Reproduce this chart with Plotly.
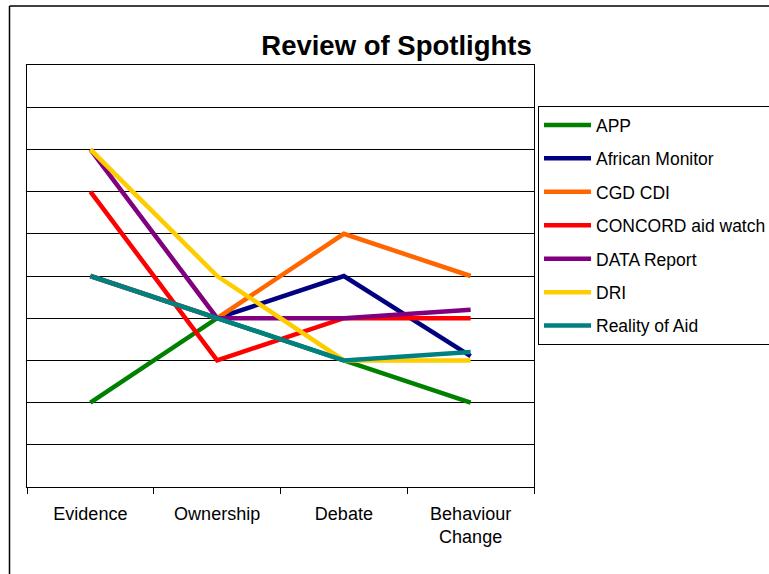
import plotly.graph_objects as go

categories = ["Evidence", "Ownership", "Debate", "Behaviour<br>Change"]

series_names = ["APP", "African Monitor", "CGD CDI", "CONCORD aid watch",
                "DATA Report", "DRI", "Reality of Aid"]
app = [2, 4, 3, 2]
african_monitor = [5, 4, 5, 3.1]
cgd_cdi = [5, 4, 6, 5]
concord = [7, 3, 4, 4]
data_report = [8, 4, 4, 4.2]
dri = [8, 5, 3, 3]
reality_of_aid = [5, 4, 3, 3.2]
series_values = [app, african_monitor, cgd_cdi, concord, data_report, dri, reality_of_aid]
colors = ["#008000", "#000080", "#FF6600", "#FF0000", "#800080", "#FFCC00", "#008080"]

W, H = 769, 574
L, R, T, B = 27, 534, 65, 487

fig = go.Figure()
for i, (name, vals, col) in enumerate(zip(series_names, series_values, colors)):
    fig.add_trace(go.Scatter(
        x=categories, y=vals, name=name, mode="lines",
        line=dict(color=col, width=4.5),
        legendgroup=f"g{i}",
    ))

def px_x(px):
    return (px - L) / (R - L)

def px_y(py):
    return (B - py) / (B - T)

fig.update_layout(
    width=W, height=H,
    margin=dict(l=L, r=W - R, t=T, b=H - B, autoexpand=False),
    paper_bgcolor="white", plot_bgcolor="white",
    font=dict(family="Liberation Sans, Arial, sans-serif", size=17, color="black"),
    title=dict(text="<b>Review of Spotlights</b>", x=396.5 / W, xref="container",
               xanchor="center", y=1 - 45 / H, yanchor="middle",
               font=dict(size=27.5, color="black")),
    xaxis=dict(type="category", range=[-0.5, 3.5], showgrid=False,
               showline=True, linecolor="black", linewidth=1, mirror=True,
               ticks="outside", tickson="boundaries", ticklen=6, tickcolor="black",
               tickfont=dict(size=18), zeroline=False, ticklabelstandoff=10),
    yaxis=dict(range=[0, 10], dtick=1, showgrid=True, gridcolor="black", gridwidth=1,
               showline=True, linecolor="black", linewidth=1, mirror=True,
               showticklabels=False, ticks="", zeroline=False),
    legend=dict(x=px_x(538), y=px_y(106), xanchor="left", yanchor="top",
                bordercolor="black", borderwidth=1, bgcolor="white",
                font=dict(size=17.5), tracegroupgap=7.7, itemwidth=47),
    showlegend=True,
)

fig.add_shape(type="line", xref="paper", yref="paper",
              x0=px_x(9.5), x1=px_x(9.5), y0=-1, y1=px_y(6),
              line=dict(color="black", width=1.5))
fig.add_shape(type="line", xref="paper", yref="paper",
              x0=px_x(9.5), x1=2, y0=px_y(6), y1=px_y(6),
              line=dict(color="black", width=1.5))

fig.write_html("out.html", config={"displayModeBar": False},
               post_script="document.body.style.margin='0';document.body.style.overflow='hidden';")
